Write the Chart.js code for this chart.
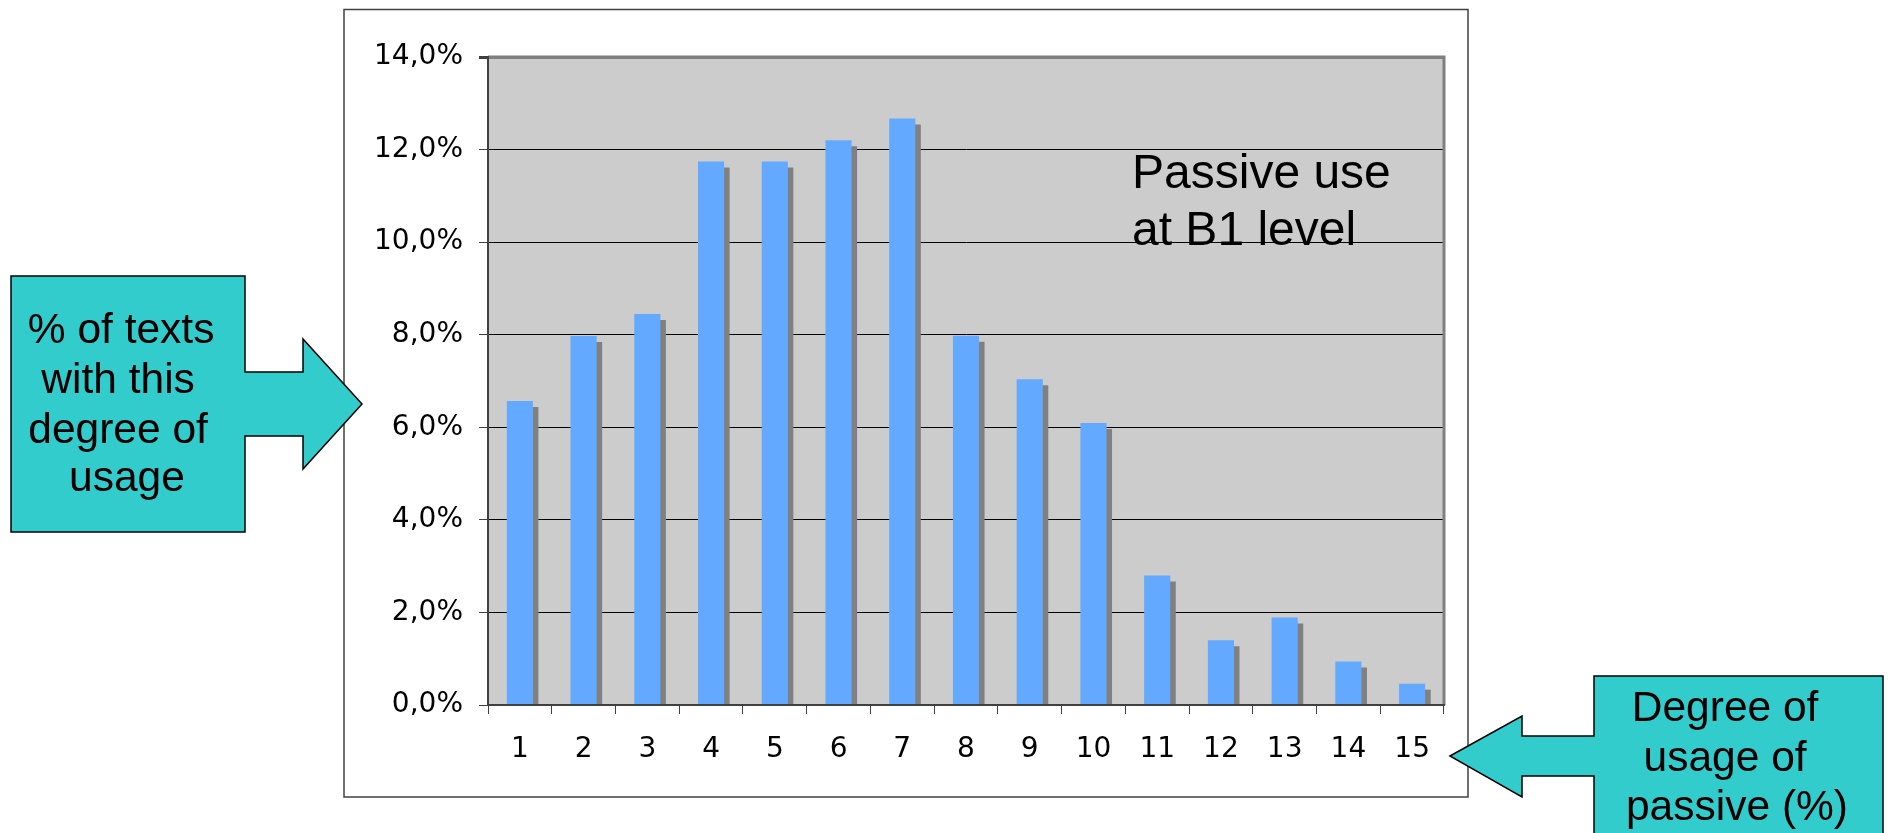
<!DOCTYPE html>
<html>
<head>
<meta charset="utf-8">
<script src="https://cdn.jsdelivr.net/npm/chart.js@4/dist/chart.umd.min.js"></script>
<style>
  body { margin: 0; background: #ffffff; overflow: hidden; }
  #wrap { position: relative; width: 1891px; height: 833px; }
  #chart { position: absolute; left: 0; top: 0; }
  #notes { position: absolute; left: 0; top: 0; pointer-events: none; }
</style>
</head>
<body>
<div id="wrap">
  <canvas id="chart" width="1891" height="833"></canvas>
  <svg id="notes" width="1891" height="833" font-family="'Liberation Sans', Arial, sans-serif">
    <polygon points="11,276 245,276 245,372 303,372 303,339 362,404 303,469 303,436 245,436 245,532 11,532"
             fill="#33cccc" stroke="#000" stroke-width="1.5"/>
    <text font-size="42.5" text-anchor="middle" fill="#000">
      <tspan x="127" y="343">% of texts</tspan>
      <tspan x="124" y="393">with this</tspan>
      <tspan x="124" y="443">degree of</tspan>
      <tspan x="127" y="491">usage</tspan>
    </text>
    <polygon points="1450,756 1522,716 1522,736 1594,736 1594,676 1883,676 1883,850 1594,850 1594,776 1522,776 1522,797"
             fill="#33cccc" stroke="#000" stroke-width="1.5"/>
    <text font-size="42.5" text-anchor="middle" fill="#000">
      <tspan x="1731" y="721">Degree of</tspan>
      <tspan x="1731" y="771">usage of</tspan>
      <tspan x="1737" y="820">passive (%)</tspan>
    </text>
    <text font-size="48" fill="#000">
      <tspan x="1132" y="188">Passive use</tspan>
      <tspan x="1132" y="245">at B1 level</tspan>
    </text>
  </svg>
</div>
<script>
// degree of usage of passive (%), one bar per degree
const degrees = ['1', '2', '3', '4', '5', '6', '7', '8', '9', '10', '11', '12', '13', '14', '15'];
// % of texts with this degree of usage
const textShare = [6.57, 7.97, 8.45, 11.74, 11.74, 12.2, 12.67, 7.98, 7.04, 6.09, 2.8, 1.4, 1.89, 0.94, 0.46];
const yMin = 0;
const yMax = 14;
const yStep = 2;

function formatPercent(v) {
    return v.toFixed(1).replace('.', ',') + '%';
}

// grey plot area plus the outer frame of the chart object
const frame = {
    id: 'frame',
    beforeDraw(chart) {
        const ctx = chart.ctx;
        const a = chart.chartArea;
        ctx.save();
        ctx.fillStyle = '#cccccc';
        ctx.fillRect(a.left, a.top, a.right - a.left, a.bottom - a.top);
        ctx.strokeStyle = '#404040';
        ctx.lineWidth = 1.5;
        ctx.strokeRect(344, 9.5, 1124, 787.5);
        ctx.restore();
    },
    beforeDatasetsDraw(chart) {
        const ctx = chart.ctx;
        const a = chart.chartArea;
        ctx.save();
        ctx.strokeStyle = '#808080';
        ctx.lineWidth = 3;
        ctx.beginPath();
        ctx.moveTo(a.left, a.top);
        ctx.lineTo(a.right, a.top);
        ctx.lineTo(a.right, a.bottom);
        ctx.stroke();
        ctx.restore();
    }
};

// flat grey shadow behind each bar, like the old office charts
const barShadow = {
    id: 'barShadow',
    beforeDatasetDraw(chart) {
        const ctx = chart.ctx;
        ctx.save();
        ctx.shadowColor = '#808080';
        ctx.shadowBlur = 0;
        ctx.shadowOffsetX = 5.5;
        ctx.shadowOffsetY = 6;
    },
    afterDatasetDraw(chart) {
        chart.ctx.restore();
    }
};

const tickFont = { family: "'DejaVu Sans', Verdana, sans-serif", size: 28 };

new Chart(document.getElementById('chart'), {
    type: 'bar',
    data: {
        labels: degrees,
        datasets: [{
            data: textShare,
            backgroundColor: '#63a9ff',
            borderWidth: 0,
            barPercentage: 0.41,
            categoryPercentage: 1,
            clip: 0
        }]
    },
    options: {
        responsive: false,
        devicePixelRatio: 1,
        animation: false,
        layout: { padding: { left: 0, top: 57, right: 447, bottom: 0 } },
        plugins: {
            legend: { display: false },
            tooltip: { enabled: false }
        },
        scales: {
            x: {
                afterFit: s => { s.height = 128; },
                grid: {
                    drawOnChartArea: false,
                    drawTicks: true,
                    tickLength: 9,
                    color: '#404040',
                    lineWidth: 1
                },
                border: { display: true, color: '#404040', width: 2, z: 1 },
                ticks: { color: '#000', font: tickFont, padding: 19, maxRotation: 0 }
            },
            y: {
                min: yMin,
                max: yMax,
                afterFit: s => { s.width = 488; },
                grid: {
                    color: c => (c.tick && c.tick.value === yMax) ? '#808080' : '#000000',
                    lineWidth: c => (c.tick && c.tick.value === yMax) ? 3 : 1,
                    tickColor: '#404040',
                    tickLength: 9
                },
                border: { display: true, color: '#404040', width: 2, z: 1 },
                ticks: {
                    stepSize: yStep,
                    color: '#000',
                    font: tickFont,
                    padding: 16,
                    callback: v => formatPercent(v)
                }
            }
        }
    },
    plugins: [frame, barShadow]
});
</script>
</body>
</html>
